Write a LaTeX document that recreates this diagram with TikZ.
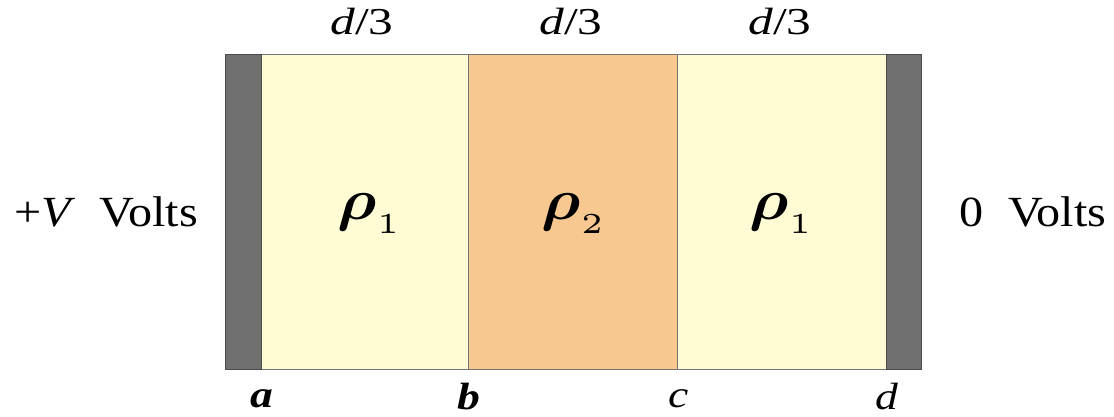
\documentclass[tikz,border=0pt]{standalone}
\usepackage{amsmath}
\usepackage{graphicx}
\usepackage{fontspec}
\setmainfont{Liberation Serif}
\newcommand{\wide}[2]{\scalebox{#1}[1]{#2}}
\newcommand{\rholabel}[1]{\scalebox{6.4}[5.8]{$\boldsymbol{\rho}_{\scriptscriptstyle #1}$}}
\begin{document}
\begin{tikzpicture}[x=1pt,y=-1pt,
  plate/.style={draw=black!70,fill=black!56,line width=0.8pt},
  slab/.style={draw=black!55,line width=0.8pt},
  lab/.style={font=\fontsize{38}{42}\selectfont},
  big/.style={font=\fontsize{43}{46}\selectfont},
  rholab/.style={font=\normalsize}]
\useasboundingbox (0,0) rectangle (1114,417);
\fill[white] (0,0) rectangle (1114,417);
\path[slab,fill={rgb,255:red,254;green,251;blue,213}] (261,54) rectangle (468,369);
\path[slab,fill={rgb,255:red,247;green,201;blue,144}] (468,54) rectangle (677,369);
\path[slab,fill={rgb,255:red,254;green,251;blue,213}] (677,54) rectangle (886,369);
\path[plate] (225,54) rectangle (261,369);
\path[plate] (886,54) rectangle (921,369);
\node[lab] (t1) at (362,22) {\wide{1.3}{\textit{d}/3}};
\node[lab] (t2) at (571,22) {\wide{1.3}{\textit{d}/3}};
\node[lab] (t3) at (780,22) {\wide{1.3}{\textit{d}/3}};
\node[rholab] (r1) at (370,214) {\rholabel{1}};
\node[rholab] (r2) at (574,214) {\rholabel{2}};
\node[rholab] (r3) at (782,214) {\rholabel{1}};
\node[big] (vl) at (106,212) {\wide{1.12}{+\textit{V}\ \ Volts}};
\node[big] (vr) at (1033,212) {\wide{1.12}{0\ \ Volts}};
\node[lab] (la) at (262,399) {\wide{1.2}{\textbf{\textit{a}}}};
\node[lab] (lb) at (469,397) {\wide{1.2}{\textbf{\textit{b}}}};
\node[lab] (lc) at (679,399) {\wide{1.2}{\textit{c}}};
\node[lab] (ld) at (887,397) {\wide{1.2}{\textit{d}}};
\end{tikzpicture}
\end{document}
